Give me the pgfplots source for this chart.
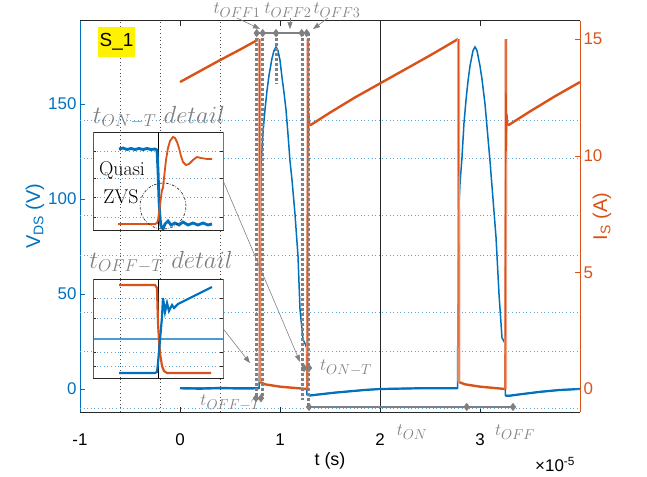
\documentclass[border=0pt]{standalone}
\usepackage{fontspec}
\setsansfont{Liberation Sans}
\usepackage{pgfplots}
\pgfplotsset{compat=1.18}
\usetikzlibrary{arrows.meta}

\definecolor{mblue}{RGB}{0,114,189}
\definecolor{morange}{RGB}{217,83,25}
\definecolor{mpale}{RGB}{238,165,135}
\definecolor{mgray}{RGB}{128,128,128}
\definecolor{gridblue}{RGB}{95,165,215}
\definecolor{axgray}{RGB}{38,38,38}

\tikzset{
  gdot/.style={mgray, line width=3bp, dash pattern=on 3bp off 2bp},
  hgrid/.style={gridblue, line width=0.9bp, dash pattern=on 1bp off 2.6bp},
  vgrid/.style={black!70, line width=0.8bp, dash pattern=on 1bp off 2.6bp},
  garrow/.style={mgray, line width=0.6bp, -{Triangle[length=7bp,width=5bp]}},
  glabel/.style={mgray, font=\fontsize{19}{21}\selectfont},
}
\pgfplotsset{
  mainax/.style={scale only axis, width=500bp, height=391.3bp, at={(0,0)}, anchor=south west,
    xmin=-1, xmax=4, tick align=inside, major tick length=5bp, clip=false,
    /pgf/number format/assume math mode=true,
    ticklabel style={font=\sffamily\fontsize{17}{20}\selectfont}},
  inset/.style={scale only axis, width=130bp, anchor=south west, xmin=0, xmax=130,
    xtick=\empty, yticklabels={}, ymajorgrids, grid style={hgrid},
    tick align=inside, major tick length=3bp, tick style={axgray},
    axis background/.style={fill=white}, axis line style={axgray, line width=0.8bp},
    after end axis/.code={
      \draw[mblue, line width=0.9bp] (rel axis cs:0,0) -- (rel axis cs:0,1);
      \draw[morange, line width=0.9bp] (rel axis cs:1,0) -- (rel axis cs:1,1);}},
}

\begin{document}
\begin{tikzpicture}
\useasboundingbox (-80bp,-65bp) rectangle (567bp,412bp);

% left axis: V_DS
\begin{axis}[mainax, axis y line*=left,
  ymin=-12.1, ymax=193.8, ytick={0,50,100,150},
  y axis line style={mblue, line width=0.8bp}, ytick style={mblue}, yticklabel style={mblue},
  xtick={-1,0,1,2,3}, xticklabels={-1,0,1,2,3}, xticklabel style={yshift=-18bp},
  x axis line style={axgray, line width=0.8bp}, xtick style={axgray},
  ylabel={V\textsubscript{DS} (V)},
  ylabel style={mblue, font=\sffamily\fontsize{20}{22}\selectfont, at={(axis description cs:-0.09,0.5)}, anchor=center},
  xlabel={t (s)},
  xlabel style={font=\sffamily\fontsize{18}{20}\selectfont, at={(axis description cs:0.5,-0.125)}, anchor=center}]

% dotted reference lines
\addplot[hgrid] coordinates {(-1,141.1) (4,141.1)};
\addplot[hgrid] coordinates {(-1,121.1) (4,121.1)};
\addplot[hgrid] coordinates {(-1,91.1) (4,91.1)};
\addplot[hgrid] coordinates {(-1,70.5) (4,70.5)};
\addplot[hgrid] coordinates {(-1,40.5) (4,40.5)};
\addplot[hgrid] coordinates {(-1,20) (4,20)};
\addplot[hgrid] coordinates {(-1,-10) (4,-10)};
\addplot[vgrid] coordinates {(-0.6,-12.1) (-0.6,193.8)};
\addplot[vgrid] coordinates {(-0.2,-12.1) (-0.2,193.8)};
\addplot[vgrid] coordinates {(0.4,-12.1) (0.4,193.8)};
\addplot[black!85, line width=0.8bp] coordinates {(2,-12.1) (2,193.8)};

% V_DS
\addplot[mblue, line width=1.5bp] coordinates {
(0,0.4) (0.79,0.4) (0.80,30) (0.805,90) (0.81,118) (0.83,135) (0.85,147) (0.87,157)
(0.89,165) (0.92,174) (0.94,178) (0.96,180) (0.98,178) (1.00,173) (1.02,164) (1.04,156)
(1.06,147) (1.08,134) (1.10,120) (1.12,110) (1.15,92) (1.18,70) (1.20,42) (1.23,26)
(1.25,24) (1.265,22) (1.27,-3) (1.30,-3.4) (1.40,-2.8) (1.55,-1.9) (1.70,-1.2) (1.85,-0.5)
(2.0,0) (2.4,0.4) (2.775,0.4) (2.78,45) (2.785,91) (2.80,108) (2.82,122) (2.84,140)
(2.86,152) (2.88,162) (2.90,170) (2.93,178) (2.95,180) (2.97,178) (3.00,170) (3.02,163)
(3.05,150) (3.08,132) (3.10,120) (3.13,100) (3.16,80) (3.19,50) (3.22,27) (3.24,25)
(3.25,24) (3.255,-3.5) (3.30,-3.5) (3.40,-2.8) (3.60,-1.5) (3.80,-0.5) (4.0,0)};
\addplot[mblue, line width=2.4bp] coordinates {(0,0.4) (0.2,0.2) (0.4,0.5) (0.6,0.3) (0.79,0.4)};
\addplot[mblue, line width=2.2bp] coordinates {(1.27,-3) (1.30,-3.4) (1.40,-2.8) (1.55,-1.9) (1.70,-1.2) (1.85,-0.5) (2.0,0) (2.4,0.4) (2.775,0.4)};
\addplot[mblue, line width=2.2bp] coordinates {(3.255,-3.5) (3.30,-3.5) (3.40,-2.8) (3.60,-1.5) (3.80,-0.5) (4.0,0)};
\end{axis}

% right axis: I_S
\begin{axis}[mainax, axis y line*=right, axis x line=none,
  ymin=-0.986, ymax=15.79, ytick={0,5,10,15},
  y axis line style={morange, line width=0.8bp}, ytick style={morange}, yticklabel style={morange},
  ylabel={I\textsubscript{S} (A)},
  ylabel style={morange, font=\sffamily\fontsize{20}{22}\selectfont, at={(axis description cs:1.044,0.5)}, anchor=center}]

% ramps and low segments
\addplot[morange, line width=2.4bp] coordinates {(0,13.16) (0.2,13.63) (0.4,14.1) (0.6,14.55) (0.79,15.0)};
\addplot[morange, line width=2.4bp] coordinates {(0.80,0.3) (0.85,0.2) (1.0,0.1) (1.27,0.0)};
\addplot[morange, line width=2.4bp] coordinates {(1.30,11.3) (1.5,11.85) (1.75,12.5) (2.0,13.1) (2.25,13.7) (2.5,14.3) (2.78,15.0)};
\addplot[morange, line width=2.4bp] coordinates {(2.79,0.3) (2.85,0.2) (3.0,0.1) (3.25,0.0)};
\addplot[morange, line width=2.4bp] coordinates {(3.28,11.3) (3.5,11.9) (3.75,12.55) (4.0,13.16)};
% switching edges
\addplot[mpale, line width=3bp] coordinates {(0.795,15.0) (0.80,0.3)};
\addplot[mpale, line width=3bp] coordinates {(1.275,0) (1.28,15.0)};
\addplot[mpale, line width=3bp] coordinates {(2.785,15.0) (2.79,0.3)};
\addplot[mpale, line width=3bp] coordinates {(3.255,0) (3.26,15.0)};
\addplot[morange, line width=0.9bp] coordinates {(0.795,15.0) (0.80,0.3)};
\addplot[morange, line width=1.2bp] coordinates {(1.27,0) (1.28,15.0) (1.283,10.2) (1.29,11.8) (1.30,11.3)};
\addplot[morange, line width=0.9bp] coordinates {(2.785,15.0) (2.79,0.3)};
\addplot[morange, line width=1.2bp] coordinates {(3.25,0) (3.26,15.0) (3.263,10.2) (3.27,11.8) (3.28,11.3)};

% gray timing markers
\addplot[gdot] coordinates {(0.76,15.26) (0.76,-0.39)};
\addplot[gdot] coordinates {(0.82,15.26) (0.82,-0.39)};
\addplot[gdot] coordinates {(0.96,15.26) (0.96,13.1)};
\addplot[gdot] coordinates {(1.22,15.26) (1.22,-0.47)};
\addplot[gdot] coordinates {(1.28,15.26) (1.28,-0.77)};
\addplot[mgray, line width=1.2bp, mark=diamond*, mark size=3.2bp] coordinates {(0.767,15.26) (0.827,15.26) (0.96,15.26) (1.217,15.26) (1.267,15.26)};
\addplot[mgray, line width=1.2bp, mark=diamond*, mark size=3.2bp] coordinates {(0.76,-0.39) (0.81,-0.39)};
\addplot[mgray, line width=1.2bp, mark=diamond*, mark size=3.2bp] coordinates {(1.24,0.9) (1.29,0.9)};
\addplot[mgray, line width=1.2bp, mark=diamond*, mark size=3.2bp] coordinates {(1.29,-0.77) (2.867,-0.77) (3.33,-0.77)};

\draw[garrow] (axis cs:0.567,15.91) -- (axis cs:0.80,15.44);
\draw[garrow] (axis cs:1.10,15.91) -- (axis cs:1.10,15.43);
\draw[garrow] (axis cs:1.48,15.91) -- (axis cs:1.33,15.43);
\draw[garrow] (axis cs:0.42,9.04) -- (axis cs:1.20,1.16);
\draw[garrow] (axis cs:0.41,2.7) -- (axis cs:0.70,1.11);

\node[glabel, inner sep=0pt] at (axis cs:0.57,16.24) {$t_{OFF1}$};
\node[glabel, inner sep=0pt] at (axis cs:1.08,16.24) {$t_{OFF2}$};
\node[glabel, inner sep=0pt] at (axis cs:1.57,16.24) {$t_{OFF3}$};
\node[glabel] at (axis cs:1.66,0.9) {$t_{ON-T}$};
\node[glabel] at (axis cs:0.51,-0.6) {$t_{OFF-T}$};
\node[glabel] at (axis cs:2.32,-1.84) {$t_{ON}$};
\node[glabel] at (axis cs:3.35,-1.84) {$t_{OFF}$};
\node[mgray, font=\fontsize{24}{26}\selectfont] at (axis cs:-0.21,11.66) {$t_{ON-T}\ detail$};
\node[mgray, font=\fontsize{24}{26}\selectfont] at (axis cs:-0.19,5.44) {$t_{OFF-T}\ detail$};
\node[fill=yellow, minimum width=37bp, minimum height=30bp, inner sep=0pt, font=\sffamily\fontsize{19}{21}\selectfont] at (axis cs:-0.635,14.87) {S\_1};
\node[anchor=east, font=\sffamily\fontsize{17}{20}\selectfont] at (axis description cs:0.997,-0.135) {×10\textsuperscript{-5}};
\end{axis}

% inset: turn-on detail
\begin{axis}[inset, height=98bp, at={(13bp,182bp)}, ymin=0, ymax=98, ytick={13,33,52,79}]
\addplot[vgrid] coordinates {(27,0) (27,98)};
\addplot[black, line width=0.8bp] coordinates {(65,0) (65,98)};
\addplot[mblue, line width=2.8bp] coordinates {
(26,81) (30,82) (34,80.5) (38,81.5) (42,80.5) (46,81.5) (50,80.5) (54,81.5) (58,80.5) (62,81)
(64,80) (65,60) (66,30) (67,12) (68,4) (70,1) (72,6) (75,9) (78,5) (82,7) (86,5) (90,8)
(95,5) (100,7) (105,5) (110,7) (115,5) (119,6)};
\addplot[morange, line width=1.8bp] coordinates {
(25,6) (62,6) (64,7) (65,10) (67,25) (69,40) (70,42) (71,52) (73,70) (75,82) (77,89)
(80,93) (82,92) (84,88) (86,82) (88,74) (90,68) (93,65) (96,66) (100,70) (104,73)
(108,72) (114,71) (119,71)};
\draw[black!80, line width=0.7bp, dash pattern=on 2.5bp off 1.5bp on 0.6bp off 1.5bp] (axis cs:70,24) circle[radius=23bp];
\node[font=\fontsize{20}{22}\selectfont] at (axis cs:29,60) {Quasi};
\node[font=\fontsize{20}{22}\selectfont] at (axis cs:28,33) {ZVS};
\end{axis}

% inset: turn-off detail
\begin{axis}[inset, height=99bp, at={(13bp,34bp)}, ymin=0, ymax=99, ytick={12,26,60,80}]
\addplot[vgrid] coordinates {(27,0) (27,99)};
\addplot[black, line width=0.8bp] coordinates {(65,0) (65,99)};
\addplot[gridblue!80!mblue, line width=1.5bp] coordinates {(0,39) (130,39)};
\addplot[morange, line width=2.2bp] coordinates {
(26,93) (62,93) (64,90) (65,55) (66,38) (67,25) (69,12) (71,7) (74,5) (80,5) (118,5)};
\addplot[mblue, line width=2.2bp] coordinates {
(26,5) (62,5) (64,6) (65,15) (67,38) (69,61) (70,80) (72,66) (74,75) (76,67) (79,73)
(81,70) (85,74) (95,79) (105,84) (119,91)};
\end{axis}
\end{tikzpicture}
\end{document}
